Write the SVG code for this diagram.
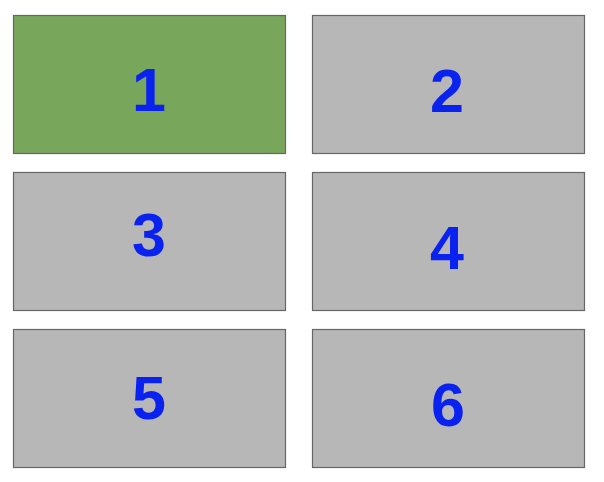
<svg xmlns="http://www.w3.org/2000/svg" width="604" height="482" viewBox="0 0 604 482">
<style>
.box{fill:#b7b7b7;stroke:#666666;stroke-width:1.2}
.green{fill:#78a65a}
.lbl{font-family:"Liberation Sans",Arial,sans-serif;font-weight:bold;font-size:61px;fill:#0a22f0;text-anchor:middle}
</style>
<rect width="604" height="482" fill="#ffffff"/>
<g id="node1"><rect class="box green" x="13.5" y="15.5" width="272" height="138"/><text class="lbl" x="149" y="111">1</text></g>
<g id="node2"><rect class="box" x="312.5" y="15.5" width="272" height="138"/><text class="lbl" x="447" y="112">2</text></g>
<g id="node3"><rect class="box" x="13.5" y="172.5" width="272" height="138"/><text class="lbl" x="149" y="256">3</text></g>
<g id="node4"><rect class="box" x="312.5" y="172.5" width="272" height="138"/><text class="lbl" x="447" y="269">4</text></g>
<g id="node5"><rect class="box" x="13.5" y="329.5" width="272" height="138"/><text class="lbl" x="149" y="419">5</text></g>
<g id="node6"><rect class="box" x="312.5" y="329.5" width="272" height="138"/><text class="lbl" x="448" y="426">6</text></g>
<g id="connectors"></g>
</svg>
